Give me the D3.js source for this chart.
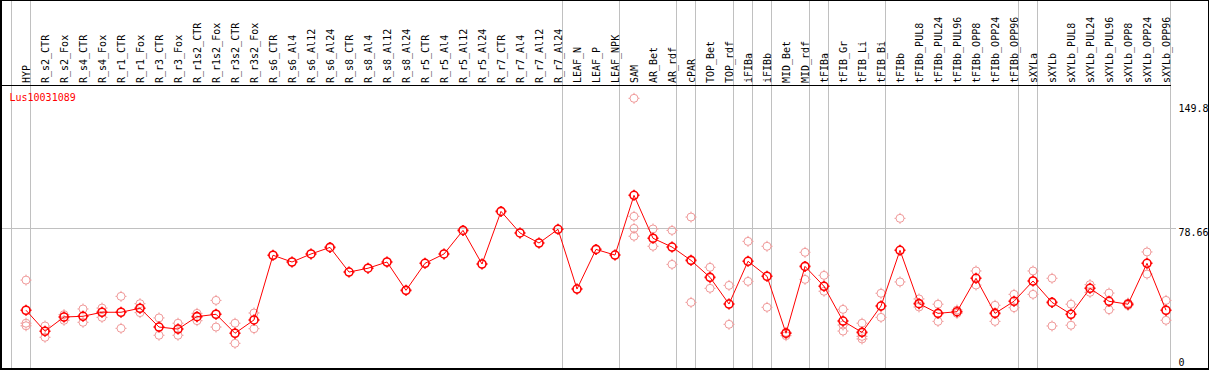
<!DOCTYPE html>
<html><head><meta charset="utf-8">
<script src="https://cdn.jsdelivr.net/npm/d3@7"></script>
<style>
html,body{margin:0;padding:0;background:#fff;}
svg{display:block;}
text{font-family:"DejaVu Sans Mono","Liberation Mono",monospace;font-size:10px;}
</style></head>
<body>
<svg id="chart" width="1209" height="370"></svg>
<script>
const title = "Lus10031089";
const categories = ["HYP","R_s2_CTR","R_s2_Fox","R_s4_CTR","R_s4_Fox","R_r1_CTR","R_r1_Fox","R_r3_CTR","R_r3_Fox","R_r1s2_CTR","R_r1s2_Fox","R_r3s2_CTR","R_r3s2_Fox","R_s6_CTR","R_s6_Al4","R_s6_Al12","R_s6_Al24","R_s8_CTR","R_s8_Al4","R_s8_Al12","R_s8_Al24","R_r5_CTR","R_r5_Al4","R_r5_Al12","R_r5_Al24","R_r7_CTR","R_r7_Al4","R_r7_Al12","R_r7_Al24","LEAF_N","LEAF_P","LEAF_NPK","SAM","AR_Bet","AR_rdf","cPAR","TOP_Bet","TOP_rdf","iFIBa","iFIBb","MID_Bet","MID_rdf","tFIBa","tFIB_Gr","tFIB_Li","tFIB_Bi","tFIBb","tFIBb_PUL8","tFIBb_PUL24","tFIBb_PUL96","tFIBb_OPP8","tFIBb_OPP24","tFIBb_OPP96","sXYLa","sXYLb","sXYLb_PUL8","sXYLb_PUL24","sXYLb_PUL96","sXYLb_OPP8","sXYLb_OPP24","sXYLb_OPP96"];
const meanValues = [33.8,22.3,30.1,30.5,32.7,32.7,34.9,24.6,23.5,30.3,31.6,21.2,28.5,63.9,60.2,64.6,68.2,54.7,56.8,60.2,44.7,59.5,64.6,77.5,59.1,87.9,76.1,70.6,78.1,45.4,67.1,64.0,96.7,73.2,68.4,61.1,51.8,37.2,60.6,52.4,21.2,57.8,46.9,27.9,21.7,36.1,66.6,37.4,32.1,33.0,51.3,32.1,38.7,49.8,38.1,31.6,45.8,38.7,37.1,59.5,33.8];
const replicateValues = [
  [50.3,26.7,25.3],[25.2,19.0],[31.4,28.3],[34.5,27.2],[35.0,29.9],[41.4,23.9],[37.4,32.5],[29.6,20.1],[26.7,20.1],[32.1,28.1],[39.2,24.6],[26.7,15.7],[32.3,23.7],
  [],[],[],[],[],[],[],[],[],[],[],[],[],[],[],[],[],[],[],
  [149.8,85.2,78.6,74.3],[78.3,68.8],[77.5,58.9],[84.8,38.1],[57.3,45.8],[47.4,26.1],[71.5,49.6],[68.8,35.4],[21.7,19.9],[65.5,50.7],[52.9,44.2],[34.3,25.7,22.4],[26.7,19.5,18.1],[43.1,29.9],
  [84.1,49.3],[40.0,35.6],[37.1,27.7],[33.9,32.1],[55.3,47.6],[36.5,27.7],[42.5,35.2],[55.3,42.5],[51.3,25.2],[37.1,25.6],[47.8,43.6],[43.2,34.1],[37.7,36.4],[65.7,53.6],[39.2,28.3]
];
const separatorsAfter = ["HYP","R_r7_Al24","LEAF_NPK","AR_rdf","cPAR","TOP_rdf","iFIBa","iFIBb","MID_rdf","tFIBa","tFIB_Bi","tFIBb_OPP96","sXYLa","sXYLb_OPP96"];
const yTicks = [149.8, 78.66, 0];
const yTickLabels = ["149.8", "78.66", "0"];
const gridValues = [78.66];

const svg = d3.select("#chart");
const W = 1209, H = 370;
const headerY = 85;
const x = d3.scalePoint().domain(categories).range([26, 1166]);
const y = d3.scaleLinear().domain([0, 149.8]).range([372, 98.3]);
const plotRight = 1170.5;

const grid = svg.append("g").attr("shape-rendering","crispEdges").attr("stroke","#c0c0c0").attr("stroke-width",1);
const sepX = [x(categories[0]) - x.step()].concat(separatorsAfter.map(c => x(c))).map(v => Math.floor(v + 4.5) + 0.5);
grid.selectAll("line.v").data(sepX).enter().append("line")
  .attr("x1", d => d).attr("x2", d => d).attr("y1", 0).attr("y2", H);
grid.selectAll("line.h").data(gridValues).enter().append("line")
  .attr("x1", 0).attr("x2", 1176).attr("y1", d => Math.round(y(d)) + 0.5).attr("y2", d => Math.round(y(d)) + 0.5);

const frame = svg.append("g").attr("shape-rendering","crispEdges").attr("stroke","#000");
frame.append("line").attr("x1",0).attr("x2",W).attr("y1",0.5).attr("y2",0.5);
frame.append("line").attr("x1",0).attr("x2",plotRight).attr("y1",headerY+0.5).attr("y2",headerY+0.5);
frame.append("line").attr("x1",1).attr("x2",1).attr("y1",0).attr("y2",H).attr("stroke-width",2);
frame.append("line").attr("x1",1208.5).attr("x2",1208.5).attr("y1",0).attr("y2",H).attr("stroke-width",2);
frame.append("line").attr("x1",0).attr("x2",W).attr("y1",369).attr("y2",369).attr("stroke-width",2);

svg.append("g").selectAll("text").data(categories).enter().append("text")
  .attr("transform", d => `translate(${x(d) + 3.5},83) rotate(-90)`)
  .attr("fill","#000")
  .text(d => d);

svg.append("text").attr("x", 9.5).attr("y", 101).attr("fill", "#ff0000").text(title);

svg.append("g").selectAll("text").data(yTicks).enter().append("text")
  .attr("x", 1178.5)
  .attr("y", d => Math.max(104, Math.min(358, y(d))) + 8)
  .attr("fill","#000")
  .text((d,i) => yTickLabels[i]);

function marker(g, cx, cy, color, sw, r) {
  g.append("circle").attr("cx", cx).attr("cy", cy).attr("r", r)
    .attr("fill","none").attr("stroke", color).attr("stroke-width", sw);
  const t = r + 1.5;
  g.append("path")
    .attr("d", `M${cx},${cy-r}V${cy-t}M${cx},${cy+r}V${cy+t}M${cx-r},${cy}H${cx-t}M${cx+r},${cy}H${cx+t}`)
    .attr("stroke", color).attr("stroke-width", sw);
}

const rep = svg.append("g");
replicateValues.forEach((arr, i) => {
  arr.forEach(v => marker(rep, x(categories[i]), y(v), "#f09a9a", 1, 4));
});

const line = d3.line().x((d,i) => x(categories[i])).y(d => y(d));
svg.append("path").datum(meanValues).attr("d", line)
  .attr("fill","none").attr("stroke","#ff0000").attr("stroke-width",1);

const mk = svg.append("g");
meanValues.forEach((v, i) => marker(mk, x(categories[i]), y(v), "#ff0000", 1.6, 4));
</script>
</body></html>
